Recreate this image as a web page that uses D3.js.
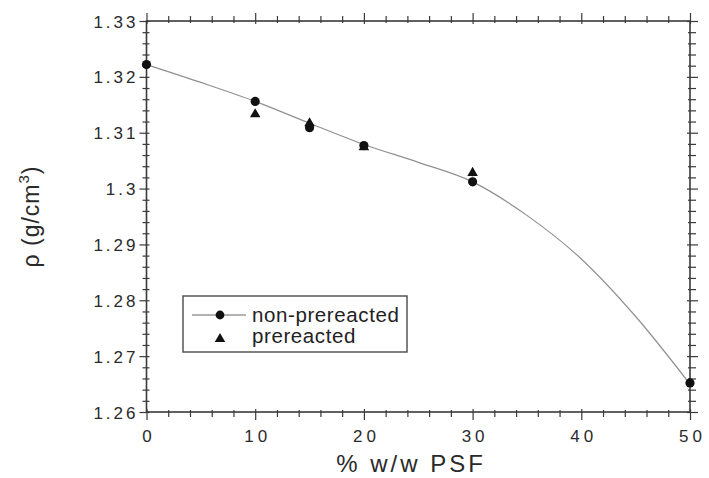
<!DOCTYPE html>
<html><head><meta charset="utf-8">
<script src="https://cdn.jsdelivr.net/npm/d3@7"></script>
<style>body{margin:0;background:#fff}svg{display:block}</style>
</head><body>
<svg id="c" width="709" height="478"></svg>
<script>
// ---- data ----
const xTicks = [0, 10, 20, 30, 40, 50];
const xTickLabels = ["0", "10", "20", "30", "40", "50"];
const xMinor = [2,4,6,8,12,14,16,18,22,24,26,28,32,34,36,38,42,44,46,48];
const yTicks = [1.26, 1.27, 1.28, 1.29, 1.30, 1.31, 1.32, 1.33];
const yTickLabels = ["1.26", "1.27", "1.28", "1.29", "1.3", "1.31", "1.32", "1.33"];
const yMinor = d3.range(1.262, 1.3295, 0.002).filter(v => Math.abs(Math.round(v*100)/100 - v) > 0.0005);
const loadings = [0, 10, 15, 20, 30, 50];
const nonPre = [1.3222, 1.3156, 1.3109, 1.3077, 1.3012, 1.2652];
const nonPreErr = [0.0003, 0.0004, 0.0007, 0.0004, 0.0004, 0.0003];
const preLoadings = [10, 15, 20, 30];
const pre = [1.3133, 1.3117, 1.3074, 1.3028];
const preErr = [0.0003, 0.0006, 0.0004, 0.0006];
const fitX = [0, 5, 10, 15, 20, 25, 30, 35, 40, 45, 50];
const fitY = [1.3222, 1.3190, 1.3156, 1.3117, 1.3079, 1.3047, 1.3012, 1.2952, 1.2874, 1.2771, 1.2650];
const seriesNames = ["non-prereacted", "prereacted"];

// ---- layout ----
const L = 146.5, R = 690, T = 21, B = 412;
const x = d3.scaleLinear().domain([0, 50]).range([L, R]);
const y = d3.scaleLinear().domain([1.26, 1.33]).range([B, T]);
const svg = d3.select("#c");
const axisColor = "#3a3a3a";
const font = "'Liberation Sans', Arial, Helvetica, sans-serif";

function styleAxis(g) {
  g.select(".domain").remove();
  g.selectAll("line").attr("stroke", axisColor).attr("stroke-width", 1.2);
}

// frame
svg.append("rect").attr("x", L).attr("y", T).attr("width", R - L).attr("height", B - T)
  .attr("fill", "none").attr("stroke", axisColor).attr("stroke-width", 1.6);

function addAxis(gen, tr, vals, outer, labels) {
  const g = svg.append("g").attr("transform", tr)
    .call(gen.tickValues(vals).tickSize(outer).tickSizeOuter(0)
      .tickFormat(labels ? (d, i) => labels[i] : () => ""));
  styleAxis(g);
  return g;
}
// bottom
const gxB = addAxis(d3.axisBottom(x), `translate(0,${B})`, xTicks, 8, xTickLabels);
gxB.selectAll("line").attr("y1", -3);
addAxis(d3.axisBottom(x), `translate(0,${B})`, xMinor, 5, null).selectAll("line").attr("y1", -2);
// top
addAxis(d3.axisTop(x), `translate(0,${T})`, xTicks, 8, null).selectAll("line").attr("y1", 3);
addAxis(d3.axisTop(x), `translate(0,${T})`, xMinor, 5, null).selectAll("line").attr("y1", 2);
// left
const gyL = addAxis(d3.axisLeft(y), `translate(${L},0)`, yTicks, 7, yTickLabels);
gyL.selectAll("line").attr("x1", 3);
addAxis(d3.axisLeft(y), `translate(${L},0)`, yMinor, 4, null).selectAll("line").attr("x1", 3);
// right
addAxis(d3.axisRight(y), `translate(${R},0)`, yTicks, 8, null).selectAll("line").attr("x1", -3);
addAxis(d3.axisRight(y), `translate(${R},0)`, yMinor, 6, null).selectAll("line").attr("x1", -2);

gxB.selectAll("text").attr("font-family", font).attr("font-size", 17).attr("fill", "#2a2a2a")
  .attr("letter-spacing", "4px").attr("y", 30).attr("dy", "0em").attr("dx", "2px");
gyL.selectAll("text").attr("font-family", font).attr("font-size", 17).attr("fill", "#2a2a2a")
  .attr("letter-spacing", "3px").attr("x", -8).attr("dy", "0.36em");

// axis titles
svg.append("text").attr("x", 411).attr("y", 472).attr("text-anchor", "middle")
  .attr("font-family", font).attr("font-size", 24).attr("fill", "#2a2a2a").attr("letter-spacing", "3px")
  .text("% w/w PSF");
const yl = svg.append("text").attr("transform", `translate(39,${(T + B) / 2}) rotate(-90)`)
  .attr("text-anchor", "middle").attr("font-family", font).attr("font-size", 23).attr("fill", "#2a2a2a")
  .attr("letter-spacing", "1px");
yl.append("tspan").text("ρ (g/cm");
yl.append("tspan").attr("font-size", 15).attr("dy", -10).text("3");
yl.append("tspan").attr("dy", 10).text(")");

// fit curve
const line = d3.line().x((d, i) => x(fitX[i])).y(d => y(d)).curve(d3.curveMonotoneX);
svg.append("path").attr("d", line(fitY)).attr("fill", "none").attr("stroke", "#909090").attr("stroke-width", 1.2);

// error bars
const ink = "#111";
svg.append("g").selectAll("line").data(loadings).join("line")
  .attr("x1", d => x(d)).attr("x2", d => x(d))
  .attr("y1", (d, i) => y(nonPre[i] - nonPreErr[i])).attr("y2", (d, i) => y(nonPre[i] + nonPreErr[i]))
  .attr("stroke", ink).attr("stroke-width", 1.5);
svg.append("g").selectAll("line").data(preLoadings).join("line")
  .attr("x1", d => x(d)).attr("x2", d => x(d))
  .attr("y1", (d, i) => y(pre[i] - preErr[i])).attr("y2", (d, i) => y(pre[i] + preErr[i]))
  .attr("stroke", ink).attr("stroke-width", 1.5);

// markers
svg.append("g").selectAll("circle").data(loadings).join("circle")
  .attr("cx", d => x(d)).attr("cy", (d, i) => y(nonPre[i])).attr("r", 4.6).attr("fill", ink);
const tri = d3.symbol().type(d3.symbolTriangle).size(48);
svg.append("g").selectAll("path").data(preLoadings).join("path")
  .attr("d", tri).attr("transform", (d, i) => `translate(${x(d)},${y(pre[i])})`).attr("fill", ink);

// legend
const lg = svg.append("g");
lg.append("rect").attr("x", 183).attr("y", 296).attr("width", 224).attr("height", 56)
  .attr("fill", "#fff").attr("stroke", "#555").attr("stroke-width", 1.5);
lg.append("line").attr("x1", 192).attr("x2", 246).attr("y1", 315).attr("y2", 315)
  .attr("stroke", "#999").attr("stroke-width", 1.3);
lg.append("circle").attr("cx", 220).attr("cy", 315).attr("r", 4.4).attr("fill", ink);
lg.append("path").attr("d", tri).attr("transform", "translate(220,339)").attr("fill", ink);
lg.selectAll("text.lt").data(seriesNames).join("text").attr("class", "lt")
  .attr("x", 252).attr("y", (d, i) => 322 + i * 21)
  .attr("font-family", font).attr("font-size", 20.5).attr("fill", "#222").attr("letter-spacing", "0.6px")
  .text(d => d);
</script>
</body></html>
